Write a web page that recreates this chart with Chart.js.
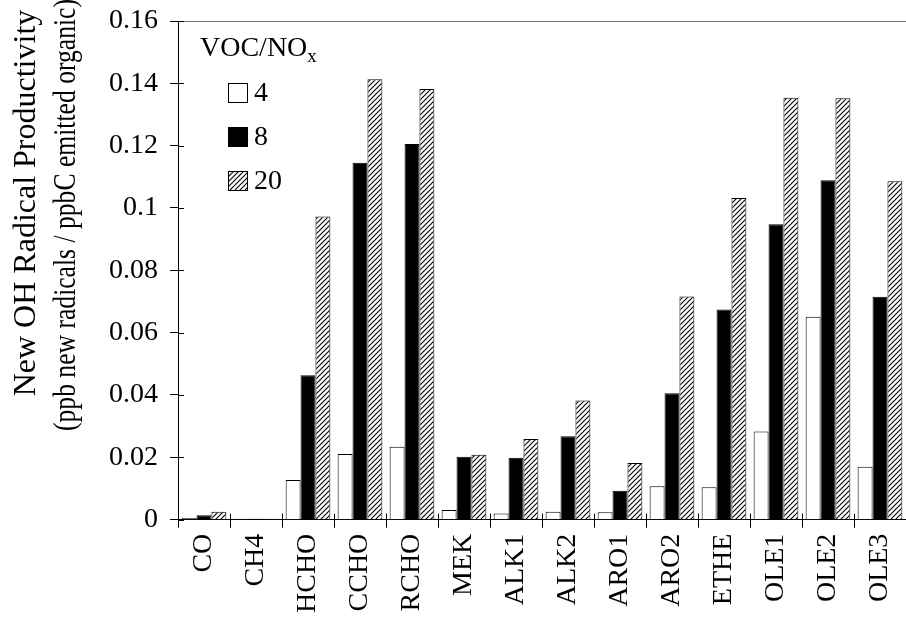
<!DOCTYPE html>
<html>
<head>
<meta charset="utf-8">
<script src="https://cdn.jsdelivr.net/npm/chart.js@4/dist/chart.umd.min.js"></script>
<style>
  html, body { margin: 0; padding: 0; background: #fff; }
  #wrap { width: 906px; height: 626px; }
</style>
</head>
<body>
<div id="wrap"><canvas id="ohChart"></canvas></div>
<script>
// data
const categories = ["CO", "CH4", "HCHO", "CCHO", "RCHO", "MEK", "ALK1", "ALK2", "ARO1", "ARO2", "ETHE", "OLE1", "OLE2", "OLE3"];
const ratioLabels = ["4", "8", "20"];
const ratio4  = [0.0005, 0.0003, 0.0127, 0.0211, 0.0234, 0.0031, 0.0020, 0.0025, 0.0024, 0.0107, 0.0104, 0.0283, 0.0651, 0.0170];
const ratio8  = [0.0014, 0.0003, 0.0463, 0.1145, 0.1205, 0.0202, 0.0199, 0.0268, 0.0093, 0.0406, 0.0674, 0.0948, 0.1089, 0.0715];
const ratio20 = [0.0025, 0.0003, 0.0973, 0.1413, 0.1382, 0.0208, 0.0259, 0.0382, 0.0182, 0.0716, 0.1032, 0.1354, 0.1352, 0.1086];
const yTicks = [0, 0.02, 0.04, 0.06, 0.08, 0.1, 0.12, 0.14, 0.16];
const yTickLabels = ["0", "0.02", "0.04", "0.06", "0.08", "0.1", "0.12", "0.14", "0.16"];
const yTitle = ["New OH Radical Productivity", "(ppb new radicals / ppbC emitted organic)"];

const serif = "'Liberation Serif', 'Times New Roman', serif";

// diagonal hatch fill
function makeHatch() {
  const c = document.createElement("canvas");
  c.width = 5;
  c.height = 5;
  const g = c.getContext("2d");
  g.fillStyle = "#fff";
  g.fillRect(0, 0, 5, 5);
  g.strokeStyle = "#000";
  g.lineWidth = 1.1;
  g.beginPath();
  g.moveTo(-1, 6); g.lineTo(6, -1);
  g.moveTo(-1, 1); g.lineTo(1, -1);
  g.moveTo(4, 6); g.lineTo(6, 4);
  g.stroke();
  return g.createPattern(c, "repeat");
}

// top frame line + short inner tick marks
const frame = {
  id: "frame",
  afterDraw(chart) {
    const ctx = chart.ctx;
    const a = chart.chartArea;
    const xs = chart.scales.x;
    const ys = chart.scales.y;
    ctx.save();
    ctx.strokeStyle = "#777";
    ctx.lineWidth = 1;
    ctx.beginPath();
    ctx.moveTo(a.left, a.top + 0.5);
    ctx.lineTo(a.right, a.top + 0.5);
    ctx.stroke();
    ctx.strokeStyle = "#000";
    ctx.beginPath();
    const step = (a.right - a.left) / categories.length;
    for (let i = 1; i < categories.length; i++) {
      const px = Math.round(xs.getPixelForTick(i) - step / 2) + 0.5;
      ctx.moveTo(px, a.bottom);
      ctx.lineTo(px, a.bottom - 6);
    }
    yTicks.forEach(function (v) {
      const py = Math.round(ys.getPixelForValue(v)) + 0.5;
      ctx.moveTo(a.left, py);
      ctx.lineTo(a.left + 6, py);
    });
    ctx.stroke();
    ctx.restore();
  }
};

// two-line rotated y title
const yTitlePlugin = {
  id: "yTitlePlugin",
  afterDraw(chart) {
    const ctx = chart.ctx;
    const spots = [[27, 203, 387, 32], [67, 215, 432, 31]];
    ctx.save();
    ctx.fillStyle = "#000";
    ctx.textAlign = "center";
    ctx.textBaseline = "middle";
    yTitle.forEach(function (line, i) {
      ctx.save();
      ctx.font = spots[i][3] + "px " + serif;
      ctx.translate(spots[i][0], spots[i][1]);
      ctx.rotate(-Math.PI / 2);
      ctx.fillText(line, 0, 0, spots[i][2]);
      ctx.restore();
    });
    ctx.restore();
  }
};

const legendBox = {
  id: "legendBox",
  afterDraw(chart) {
    const ctx = chart.ctx;
    const a = chart.chartArea;
    ctx.save();
    ctx.fillStyle = "#000";
    ctx.textBaseline = "alphabetic";
    ctx.font = "28px " + serif;
    ctx.fillText("VOC/NO", a.left + 22, a.top + 35);
    const w = ctx.measureText("VOC/NO").width;
    ctx.font = "19px " + serif;
    ctx.fillText("x", a.left + 22 + w, a.top + 41);
    chart.data.datasets.forEach(function (ds, i) {
      const y = a.top + 62 + i * 44;
      ctx.fillStyle = ds.backgroundColor;
      ctx.fillRect(a.left + 50, y, 19, 19);
      ctx.strokeStyle = "#000";
      ctx.lineWidth = 1;
      ctx.strokeRect(a.left + 50.5, y + 0.5, 19, 19);
      ctx.fillStyle = "#000";
      ctx.font = "28px " + serif;
      ctx.textBaseline = "middle";
      ctx.fillText(ds.label, a.left + 76, y + 11);
    });
    ctx.restore();
  }
};

const ctx = document.getElementById("ohChart").getContext("2d");
const ohChart = new Chart(ctx, {
  type: "bar",
  data: {
    labels: categories,
    datasets: [
      { label: ratioLabels[0], data: ratio4, backgroundColor: "#fff", borderColor: "#000", borderWidth: 1 },
      { label: ratioLabels[1], data: ratio8, backgroundColor: "#000", borderColor: "#000", borderWidth: 1 },
      { label: ratioLabels[2], data: ratio20, backgroundColor: makeHatch(), borderColor: "#000", borderWidth: 1 }
    ]
  },
  options: {
    responsive: true,
    maintainAspectRatio: false,
    animation: false,
    categoryPercentage: 0.86,
    barPercentage: 1.0,
    layout: { padding: { top: 0, right: 0, left: 97, bottom: 7 } },
    plugins: {
      legend: { display: false },
      tooltip: { enabled: false }
    },
    scales: {
      x: {
        afterFit: function (scale) {
          scale.paddingRight = 0;
          scale.paddingLeft = 0;
        },
        grid: { offset: true, drawOnChartArea: false, color: "#000", tickLength: 8 },
        border: { color: "#000", width: 1 },
        ticks: {
          color: "#000",
          font: { family: serif, size: 28 },
          minRotation: 90,
          maxRotation: 90,
          autoSkip: false,
          padding: 6
        }
      },
      y: {
        min: 0,
        max: 0.16,
        afterBuildTicks: function (axis) {
          axis.ticks = yTicks.map(function (v) { return { value: v }; });
        },
        afterFit: function (scale) {
          scale.paddingTop = 21;
        },
        grid: { drawOnChartArea: false, color: "#000", tickLength: 8 },
        border: { color: "#000", width: 1 },
        ticks: {
          color: "#000",
          font: { family: serif, size: 28 },
          padding: 12,
          callback: function (value) {
            const i = yTicks.indexOf(value);
            return i >= 0 ? yTickLabels[i] : "";
          }
        }
      }
    }
  },
  plugins: [frame, yTitlePlugin, legendBox]
});
</script>
</body>
</html>
